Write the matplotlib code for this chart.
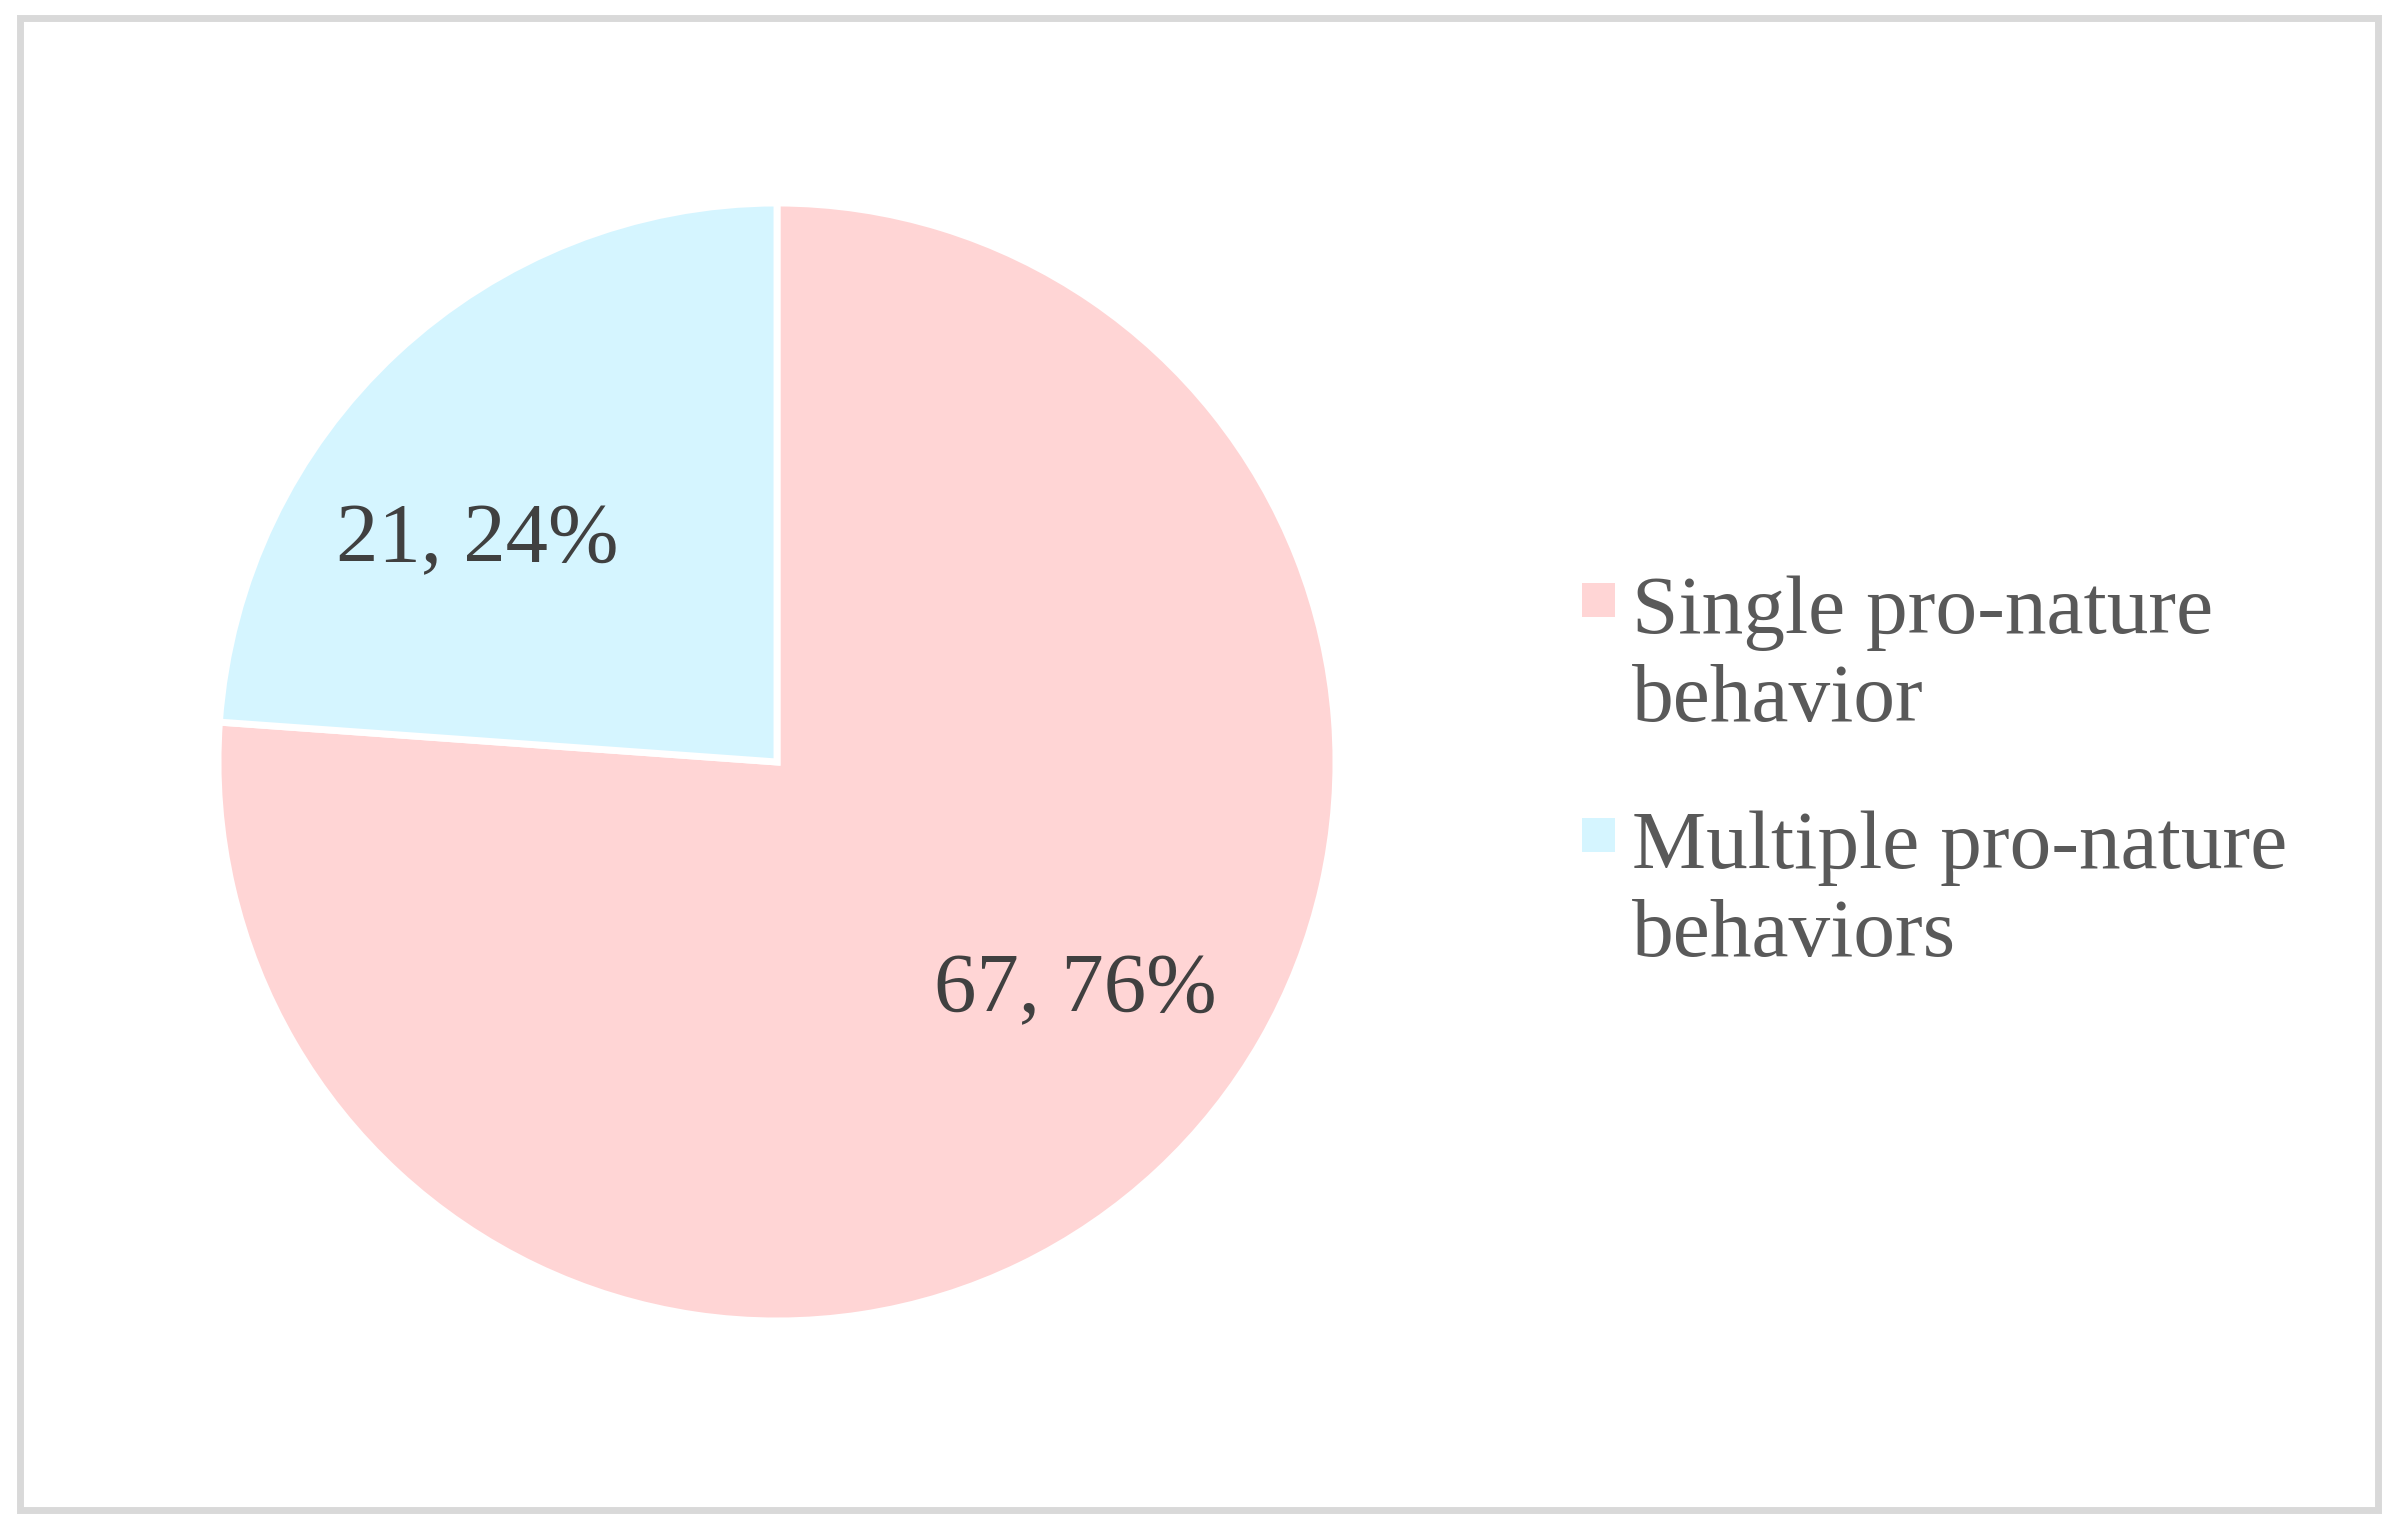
import matplotlib
matplotlib.use("Agg")
import matplotlib.pyplot as plt
from matplotlib.patches import Rectangle

categories = ["Single pro-nature\nbehavior", "Multiple pro-nature\nbehaviors"]
values = [67, 21]
percents = ["76%", "24%"]
colors = ["#FFD5D5", "#D5F5FF"]

W, H = 2398, 1526
fig = plt.figure(figsize=(W / 100, H / 100), dpi=100)
fig.patch.set_facecolor("white")
plt.rcParams['font.family'] = ['Liberation Serif', 'DejaVu Serif']

# outer border
fig.patches.append(Rectangle((20 / W, 16 / H), (W - 40) / W, (H - 34) / H,
                             transform=fig.transFigure, fill=False,
                             edgecolor="#D9D9D9", linewidth=5))

cx, cy, r = 777, 762, 559
ax = fig.add_axes([(cx - r) / W, (H - cy - r) / H, 2 * r / W, 2 * r / H])
wedges, _ = ax.pie(values, colors=colors, startangle=90, counterclock=False,
                   wedgeprops=dict(edgecolor="white", linewidth=5))
ax.set_xlim(-1, 1)
ax.set_ylim(-1, 1)
ax.set_aspect("equal")
ax.axis("off")

# data labels
label_pos = [(1075, 992), (477, 542)]
for v, p, (px, py) in zip(values, percents, label_pos):
    fig.text(px / W, 1 - py / H, f"{v}, {p}", ha="center", va="center",
             fontsize=61, color="#404040")

# legend
first_base = [629, 864]
line_gap = 92
for cat, col, by in zip(categories, colors, first_base):
    fig.patches.append(Rectangle((1582 / W, 1 - (by - 12) / H), 33 / W, 34 / H,
                                 transform=fig.transFigure, facecolor=col,
                                 edgecolor="none"))
    fig.text(1632 / W, 1 - (by + line_gap) / H, cat, ha="left", va="baseline",
             fontsize=60, color="#595959", linespacing=1.22)

fig.savefig("out.png", dpi=100, facecolor="white")
